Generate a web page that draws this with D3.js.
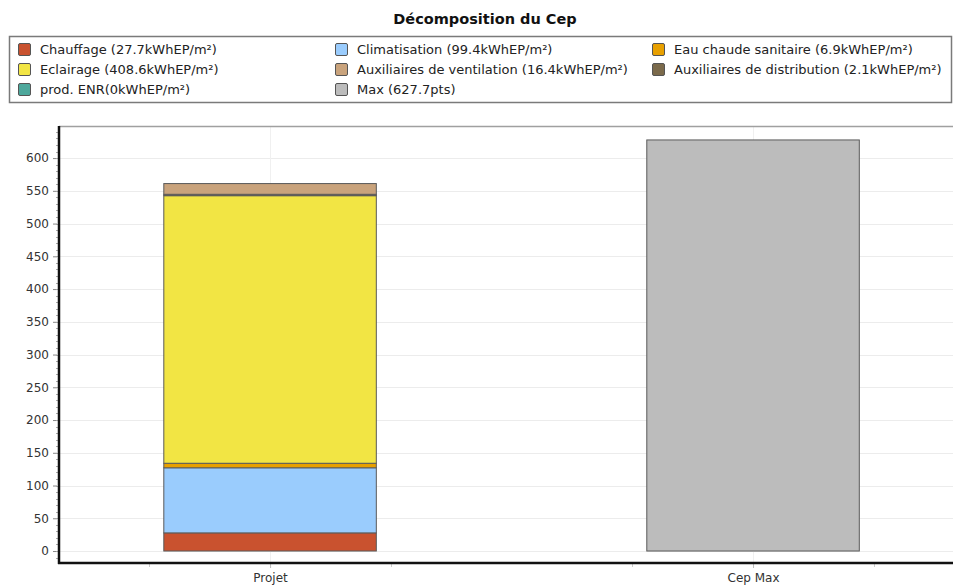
<!DOCTYPE html>
<html>
<head>
<meta charset="utf-8">
<script src="https://cdn.jsdelivr.net/npm/d3@7"></script>
<style>
	body { margin: 0; background: #fff; overflow: hidden; }
	svg text { font-family: "DejaVu Sans", Verdana, sans-serif; }
</style>
</head>
<body>
<div class="chart"></div>
<script>
// categories on the x axis
const categories = ["Projet", "Cep Max"];

// series, in legend order
const seriesKeys = ["chauffage", "clim", "ecs", "eclairage", "ventil", "distrib", "enr", "max"];
const seriesLabels = [
	"Chauffage (27.7kWhEP/m²)",
	"Climatisation (99.4kWhEP/m²)",
	"Eau chaude sanitaire (6.9kWhEP/m²)",
	"Eclairage (408.6kWhEP/m²)",
	"Auxiliaires de ventilation (16.4kWhEP/m²)",
	"Auxiliaires de distribution (2.1kWhEP/m²)",
	"prod. ENR(0kWhEP/m²)",
	"Max (627.7pts)"
];
const seriesColors = ["#c9522f", "#9accfd", "#e8a000", "#f2e544", "#c9a37c", "#7b6a4b", "#4ea89c", "#bcbcbc"];

// values per series, one per category
const projetValues = [27.7, 99.4, 6.9, 408.6, 16.4, 2.1, 0, 0];
const cepMaxValues = [0, 0, 0, 0, 0, 0, 0, 627.7];

// stacking order (bottom to top)
const stackOrder = ["chauffage", "clim", "ecs", "eclairage", "distrib", "ventil", "enr", "max"];

const yTicks = [0, 50, 100, 150, 200, 250, 300, 350, 400, 450, 500, 550, 600];

(function () {
	const width = 953, height = 588;
	const left = 59, right = 953, top = 126, bottom = 563;

	const svg = d3.select(".chart").append("svg")
		.attr("width", width)
		.attr("height", height)
		.style("display", "block");

	// title
	svg.append("text")
		.attr("x", 485)
		.attr("y", 24)
		.attr("text-anchor", "middle")
		.attr("font-size", 14.5)
		.attr("font-weight", "bold")
		.attr("fill", "#111")
		.text("Décomposition du Cep");

	// legend box
	svg.append("rect")
		.attr("x", 9.5).attr("y", 36.5)
		.attr("width", 942).attr("height", 66)
		.attr("fill", "#fff")
		.attr("stroke", "#7a7a7a")
		.attr("stroke-width", 1.5);

	const colX = [18, 335, 652];
	const rowY = [43, 63, 83];
	const legend = svg.append("g");
	seriesLabels.forEach(function (label, i) {
		const col = i % 3, row = Math.floor(i / 3);
		const g = legend.append("g")
			.attr("transform", "translate(" + colX[col] + "," + rowY[row] + ")");
		g.append("rect")
			.attr("x", 0.5).attr("y", 0.5)
			.attr("width", 12).attr("height", 12)
			.attr("rx", 1.5)
			.attr("fill", seriesColors[i])
			.attr("stroke", "#555");
		g.append("text")
			.attr("x", 22)
			.attr("y", 11)
			.attr("font-size", 13)
			.attr("fill", "#222")
			.text(label);
	});

	// scales
	const x = d3.scaleLinear().domain([-0.437, 1.414]).range([left, right]);
	const y = d3.scaleLinear().domain([-18.3, 649]).range([bottom, top]);

	// grid
	const grid = svg.append("g");
	grid.selectAll(".hgrid")
		.data(yTicks)
		.enter().append("line")
		.attr("x1", left).attr("x2", right)
		.attr("y1", function (d) { return Math.round(y(d)) + 0.5; })
		.attr("y2", function (d) { return Math.round(y(d)) + 0.5; })
		.attr("stroke", "#ececec");
	grid.selectAll(".vgrid")
		.data(categories)
		.enter().append("line")
		.attr("x1", function (d, i) { return Math.round(x(i)) + 0.5; })
		.attr("x2", function (d, i) { return Math.round(x(i)) + 0.5; })
		.attr("y1", top).attr("y2", bottom)
		.attr("stroke", "#f0f0f0");

	// stacked data
	const rows = categories.map(function (c, ci) {
		const vals = ci === 0 ? projetValues : cepMaxValues;
		const r = {cat: c, idx: ci};
		seriesKeys.forEach(function (k, i) { r[k] = vals[i]; });
		return r;
	});
	const stacked = d3.stack().keys(stackOrder)(rows);

	const barHalf = 0.22;
	stacked.forEach(function (layer) {
		const color = seriesColors[seriesKeys.indexOf(layer.key)];
		svg.append("g").selectAll("rect")
			.data(layer.filter(function (d) { return d[1] - d[0] > 0; }))
			.enter().append("rect")
			.attr("x", function (d) { return x(d.data.idx - barHalf); })
			.attr("width", function (d) { return x(d.data.idx + barHalf) - x(d.data.idx - barHalf); })
			.attr("y", function (d) { return y(d[1]); })
			.attr("height", function (d) { return y(d[0]) - y(d[1]); })
			.attr("fill", color)
			.attr("stroke", "#5a5a5a")
			.attr("stroke-width", 1);
	});

	// frame top line
	svg.append("line")
		.attr("x1", left).attr("x2", right)
		.attr("y1", top + 0.5).attr("y2", top + 0.5)
		.attr("stroke", "#a0a0a0").attr("stroke-width", 1.5);

	// y axis
	const yAxis = d3.axisLeft(y)
		.tickValues(yTicks)
		.tickSize(4)
		.tickPadding(4);
	const gy = svg.append("g")
		.attr("transform", "translate(" + (left - 2) + ",0)")
		.call(yAxis);
	gy.select(".domain").remove();
	gy.selectAll("line").attr("stroke", "#888");
	gy.selectAll("text").attr("font-size", 12).attr("fill", "#333");

	// minor y ticks
	svg.append("g").selectAll("line")
		.data(d3.range(-10, 650, 10))
		.enter().append("line")
		.attr("x1", left - 3).attr("x2", left)
		.attr("y1", function (d) { return Math.round(y(d)) + 0.5; })
		.attr("y2", function (d) { return Math.round(y(d)) + 0.5; })
		.attr("stroke", "#aaa");

	svg.append("line")
		.attr("x1", left).attr("x2", left)
		.attr("y1", top).attr("y2", bottom + 1)
		.attr("stroke", "#111").attr("stroke-width", 2.5);

	// x axis
	const xAxis = d3.axisBottom(x)
		.tickValues([0, 1])
		.tickFormat(function (d) { return categories[d]; })
		.tickSize(4)
		.tickPadding(5);
	const gx = svg.append("g")
		.attr("transform", "translate(0," + (bottom + 1) + ")")
		.call(xAxis);
	gx.select(".domain").remove();
	gx.selectAll("line").attr("stroke", "#bbb");
	gx.selectAll("text").attr("font-size", 12).attr("fill", "#333");

	// minor x ticks at quarter points
	svg.append("g").selectAll("line")
		.data([-0.25, 0.25, 0.75, 1.25])
		.enter().append("line")
		.attr("x1", function (d) { return Math.round(x(d)) + 0.5; })
		.attr("x2", function (d) { return Math.round(x(d)) + 0.5; })
		.attr("y1", bottom + 1).attr("y2", bottom + 4)
		.attr("stroke", "#ccc");

	svg.append("line")
		.attr("x1", left - 1).attr("x2", right)
		.attr("y1", bottom).attr("y2", bottom)
		.attr("stroke", "#111").attr("stroke-width", 2.5);
}());
</script>
</body>
</html>
